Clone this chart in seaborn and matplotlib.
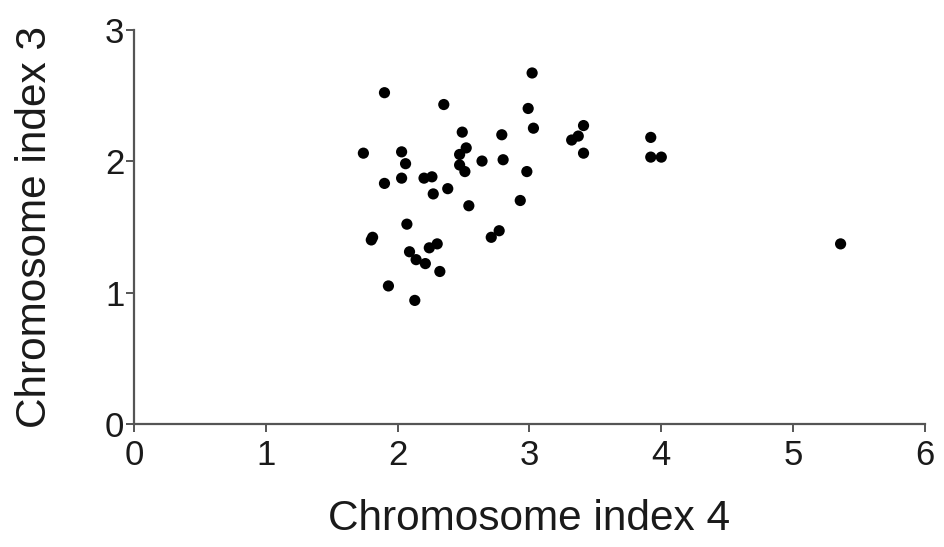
import pandas as pd
import matplotlib
matplotlib.use("Agg")
import matplotlib.pyplot as plt
import seaborn as sns

# valores (indice cromosoma 4 vs indice cromosoma 3)
chr4 = [3.02, 1.90, 2.35, 2.99, 3.03, 2.49, 2.79, 1.74, 2.03, 2.52,
        2.47, 2.06, 2.64, 2.80, 2.47, 2.51, 2.98, 1.90, 2.03, 2.20,
        2.26, 2.27, 2.38, 2.54, 2.93, 2.07, 2.77, 2.71, 1.80, 1.81,
        2.30, 2.24, 2.09, 2.14, 2.21, 2.32, 1.93, 2.13, 3.41, 3.37,
        3.32, 3.41, 3.92, 3.92, 4.00, 5.36]
chr3 = [2.67, 2.52, 2.43, 2.40, 2.25, 2.22, 2.20, 2.06, 2.07, 2.10,
        2.05, 1.98, 2.00, 2.01, 1.97, 1.92, 1.92, 1.83, 1.87, 1.87,
        1.88, 1.75, 1.79, 1.66, 1.70, 1.52, 1.47, 1.42, 1.40, 1.42,
        1.37, 1.34, 1.31, 1.25, 1.22, 1.16, 1.05, 0.94, 2.27, 2.19,
        2.16, 2.06, 2.18, 2.03, 2.03, 1.37]

df = pd.DataFrame({"Chromosome index 4": chr4, "Chromosome index 3": chr3})

sns.set_style("ticks")
plt.rcParams['font.family'] = ['Liberation Sans', 'DejaVu Sans']

fig = plt.figure(figsize=(9.45, 5.47), dpi=100)
ax = fig.add_axes([0.1418, 0.2249, 0.837, 0.721])

sns.scatterplot(data=df, x="Chromosome index 4", y="Chromosome index 3",
                color='black', s=65, edgecolor='none', ax=ax)

ax.set_xlim(0, 6)
ax.set_ylim(0, 3)
ax.set_xticks(range(0, 7))
ax.set_yticks(range(0, 4))

sns.despine(ax=ax)
for side in ['left', 'bottom']:
    ax.spines[side].set_color('#555555')
    ax.spines[side].set_linewidth(1.6)
ax.tick_params(axis='both', colors='#555555', width=1.4, length=6,
               labelsize=25, labelcolor='#1a1a1a')
ax.tick_params(axis='y', pad=1)
ax.tick_params(axis='x', pad=5)

ax.set_xlabel("Chromosome index 4", fontsize=30.5, color='#1a1a1a', labelpad=19)
ax.set_ylabel("Chromosome index 3", fontsize=30.5, color='#1a1a1a', labelpad=36)

fig.savefig("out.png", dpi=100)
